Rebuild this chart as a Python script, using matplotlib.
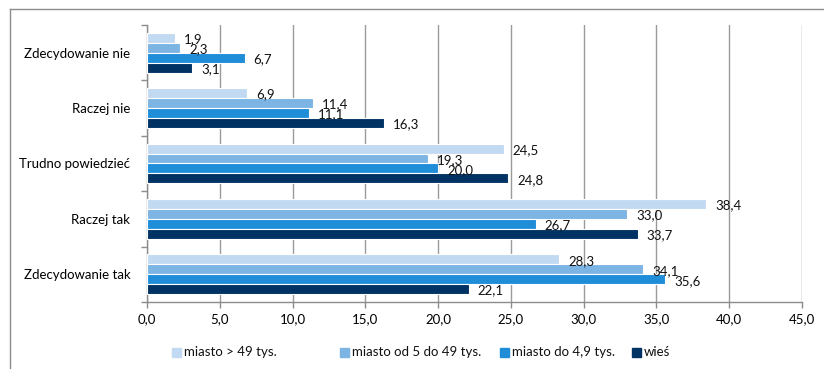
import numpy as np
import matplotlib.pyplot as plt
from matplotlib.lines import Line2D
from matplotlib.patches import Rectangle

plt.rcParams['font.family'] = ['Lato', 'DejaVu Sans']

categories = ["Zdecydowanie nie", "Raczej nie", "Trudno powiedzieć", "Raczej tak", "Zdecydowanie tak"]
series_names = ["miasto > 49 tys.", "miasto od 5 do 49 tys.", "miasto do 4,9 tys.", "wieś"]
big_city = [1.9, 6.9, 24.5, 38.4, 28.3]
mid_town = [2.3, 11.4, 19.3, 33.0, 34.1]
small_town = [6.7, 11.1, 20.0, 26.7, 35.6]
village = [3.1, 16.3, 24.8, 33.7, 22.1]
colors = ["#C2DAF1", "#7CB4E4", "#1F8DD8", "#003263"]

series = [big_city, mid_town, small_town, village]

W, H = 824, 369
fig = plt.figure(figsize=(W / 100, H / 100), dpi=100)
ax = fig.add_axes([0.1784, 0.1816, 0.7949, 0.7507])

n = len(categories)
bar_h = 0.18
y_base = np.arange(n)
for i, (vals, col) in enumerate(zip(series, colors)):
    y = y_base + (i - 1.5) * bar_h
    bars = ax.barh(y, vals, height=bar_h, color=col, edgecolor="white", linewidth=0.8, zorder=3)
    for b, v in zip(bars, vals):
        ax.annotate(f"{v:.1f}".replace(".", ","), (v, b.get_y() + b.get_height() / 2),
                    xytext=(6.5, -1), textcoords="offset points",
                    ha="left", va="center", fontsize=9.5, color="#111111", zorder=4)

ax.set_ylim(n - 0.5, -0.5)
ax.set_yticks(y_base)
ax.set_yticklabels(categories, fontsize=9.5)
ax.set_yticks(np.arange(n + 1) - 0.5, minor=True)
ax.tick_params(axis="y", which="major", length=0, pad=12)
ax.tick_params(axis="y", which="minor", length=4, color="#8C8C8C", width=1)

ax.set_xlim(0, 45)
ticks = np.arange(0, 46, 5)
ax.set_xticks(ticks)
ax.set_xticklabels([f"{t:.1f}".replace(".", ",") for t in ticks], fontsize=9.5)
ax.tick_params(axis="x", length=4, color="#8C8C8C", width=1, pad=4)
ax.xaxis.grid(True, color="#9A9A9A", linewidth=1, zorder=0)

for side in ["top", "right"]:
    ax.spines[side].set_visible(False)
for side in ["left", "bottom"]:
    ax.spines[side].set_color("#8C8C8C")
    ax.spines[side].set_linewidth(1)

# legend entries laid out by hand along the bottom
legend_x = [172, 340, 500, 632]
legend_y = 352
sq = 9
for x0, name, col in zip(legend_x, series_names, colors):
    fig.add_artist(Rectangle((x0 / W, (H - legend_y - sq / 2) / H), sq / W, sq / H,
                             transform=fig.transFigure, color=col))
    fig.text((x0 + sq + 3) / W, (H - legend_y) / H, name, fontsize=9.5,
             ha="left", va="center", color="#111111")

# outer frame (top and left edges)
fig.add_artist(Line2D([10 / W, 10 / W], [0, 1 - 9 / H], transform=fig.transFigure,
                      color="#8C8C8C", linewidth=1))
fig.add_artist(Line2D([10 / W, 1], [1 - 9 / H, 1 - 9 / H], transform=fig.transFigure,
                      color="#8C8C8C", linewidth=1))

fig.savefig("out.png", dpi=100)
